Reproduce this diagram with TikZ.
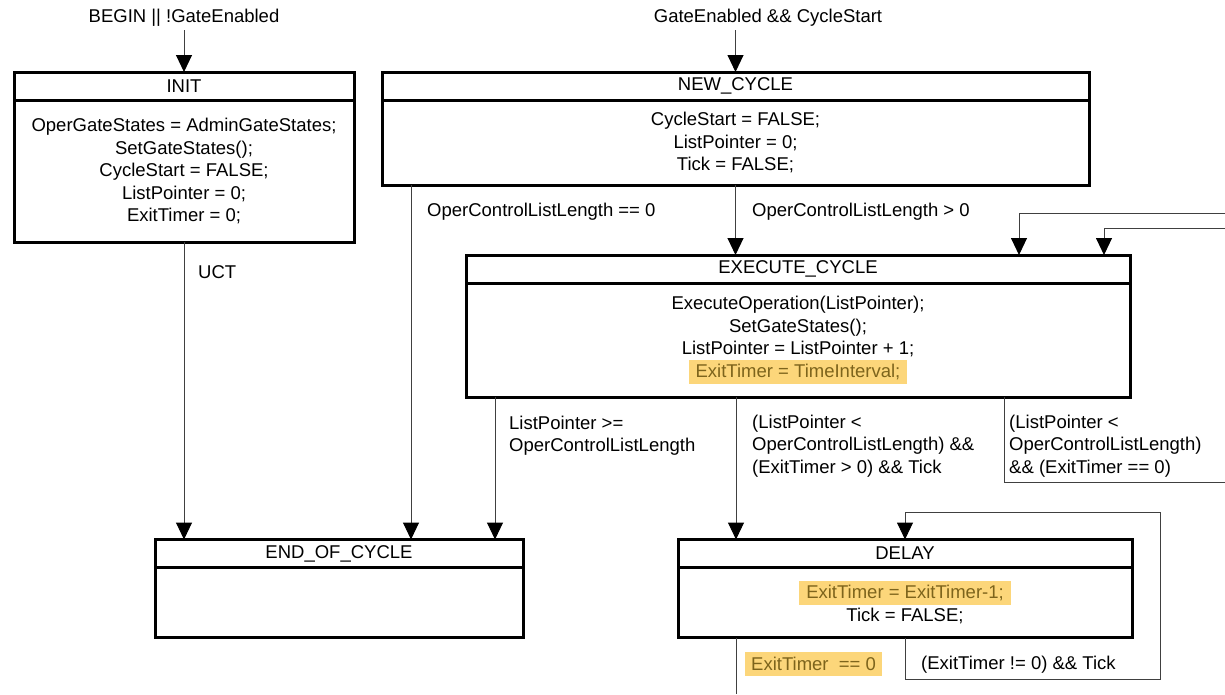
\documentclass[tikz,border=0pt]{standalone}
\usepackage{fontspec}
\setmainfont{Liberation Sans}
\usetikzlibrary{arrows.meta,positioning}
\definecolor{hlfill}{RGB}{252,214,122}
\definecolor{hltext}{RGB}{125,100,28}
\newcommand{\hlbox}[1]{{\setlength{\fboxsep}{4pt}\colorbox{hlfill}{\hspace{3pt}\textcolor{hltext}{#1}\hspace{3pt}}}}

\begin{document}
\begin{tikzpicture}[x=1pt, y=-1pt,
    every node/.style={font=\fontsize{18.5}{22.5}\selectfont},
    head/.style={draw, line width=3pt, outer sep=0pt, inner sep=0pt, minimum height=28pt},
    body/.style={draw, line width=3pt, outer sep=0pt, inner sep=0pt, align=center},
    flow/.style={draw=black!75, line width=1pt, -{Triangle[width=16pt,length=17pt,black]}},
    conn/.style={draw=black!75, line width=1pt},
    lbl/.style={align=left, inner sep=0pt, anchor=west},
    hl/.style={fill=hlfill, text=hltext, inner xsep=6pt, inner ysep=5pt}]
    \useasboundingbox (0,0) rectangle (1225,694);

    % Etats
    \node[head, minimum width=340] (init) at (184,86) {INIT};
    \node[body, minimum width=340, minimum height=142, below=0pt of init] (initbody)
        {OperGateStates = AdminGateStates;\\ SetGateStates();\\ CycleStart = FALSE;\\ ListPointer = 0;\\ ExitTimer = 0;};

    \node[head, minimum width=707] (newcyc) at (735.5,86) {NEW\_CYCLE};
    \node[body, minimum width=707, minimum height=85, below=0pt of newcyc] (newcycbody)
        {CycleStart = FALSE;\\ ListPointer = 0;\\ Tick = FALSE;};

    \node[head, minimum width=664] (exec) at (798,269) {EXECUTE\_CYCLE};
    \node[body, minimum width=664, minimum height=114, below=0pt of exec] (execbody)
        {ExecuteOperation(ListPointer);\\ SetGateStates();\\ ListPointer = ListPointer + 1;\\ \hlbox{ExitTimer = TimeInterval;}};

    \node[head, minimum width=368] (endcyc) at (339,553.5) {END\_OF\_CYCLE};
    \node[body, minimum width=368, minimum height=70, below=0pt of endcyc] (endcycbody) {};

    \node[head, minimum width=454] (delay) at (905,553.5) {DELAY};
    \node[body, minimum width=454, minimum height=70, below=0pt of delay] (delaybody)
        {\hlbox{ExitTimer = ExitTimer-1;}\\ Tick = FALSE;};

    % Conditions d'entree
    \node (startinit) at (184,18) {BEGIN || !GateEnabled};
    \node (startcyc) at (768,18) {GateEnabled \&\& CycleStart};
    \coordinate (execinA) at (1225,213);
    \coordinate (execinB) at (1225,228);
    \coordinate (execout) at (1225,482);

    % Transitions
    \draw[flow] (startinit.south) -- (startinit.south |- init.north);
    \draw[flow] (newcyc |- startcyc.south) -- (newcyc.north);
    \draw[flow] (initbody.south) -- (initbody.south |- endcyc.north);
    \draw[flow] ([xshift=29pt]newcycbody.south west) -- ([xshift=29pt]newcycbody.south west |- endcyc.north);
    \draw[flow] (newcycbody.south) -- (newcycbody.south |- exec.north);
    \draw[flow] (execinA) -| ([xshift=-111pt]exec.north east);
    \draw[flow] (execinB) -| ([xshift=-26pt]exec.north east);
    \draw[flow] ([xshift=29pt]execbody.south west) -- ([xshift=29pt]execbody.south west |- endcyc.north);
    \draw[flow] ([xshift=270pt]execbody.south west) -- ([xshift=270pt]execbody.south west |- delay.north);
    \draw[conn] ([xshift=-126pt]execbody.south east) |- (execout);
    \draw[flow] (delaybody.south) |- ([xshift=28pt,yshift=-42pt]delaybody.south east)
        |- ([yshift=27pt]delay.north) -- (delay.north);
    \draw[conn] ([xshift=58pt]delaybody.south west) -- ++(0,56);

    % Etiquettes des transitions
    \node[lbl] (uct) at (198,272) {UCT};
    \node[lbl] (nolist) at (427,212) {OperControlListLength == 0};
    \node[lbl] (haslist) at (752,212) {OperControlListLength > 0};
    \node[lbl] (listend) at (509,435.5) {ListPointer >=\\OperControlListLength};
    \node[lbl] (tickgo) at (752,446) {(ListPointer <\\OperControlListLength) \&\&\\(ExitTimer > 0) \&\& Tick};
    \node[lbl] (nowait) at (1009,446) {(ListPointer <\\OperControlListLength)\\\&\& (ExitTimer == 0)};
    \node[lbl] (keepwait) at (921,665) {(ExitTimer != 0) \&\& Tick};
    \node[lbl, hl] (waitdone) at (745,664) {ExitTimer~ == 0};
\end{tikzpicture}
\end{document}
